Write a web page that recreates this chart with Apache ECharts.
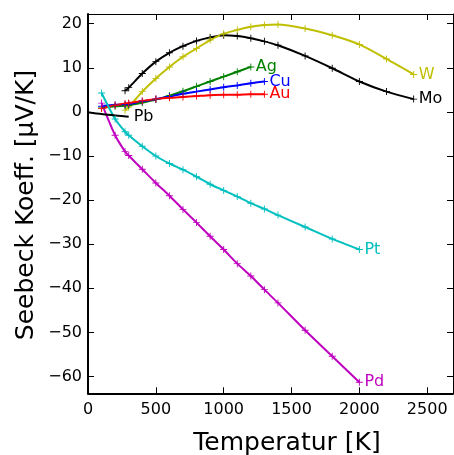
<!DOCTYPE html>
<html>
<head>
<meta charset="utf-8">
<script src="https://cdn.jsdelivr.net/npm/echarts@6/dist/echarts.min.js"></script>
<style>html,body{margin:0;padding:0;background:#fff}#c{width:454px;height:455px}</style>
</head>
<body>
<div id="c"></div>
<script>
// Data (temperature in K, Seebeck coefficient in µV/K)
const W  = [[273,0.4],[300,1.1],[400,4.6],[500,7.6],[600,10.2],[700,12.5],[800,14.4],[900,16.3],[1000,17.7],[1100,18.6],[1200,19.3],[1300,19.7],[1400,19.8],[1600,18.9],[1800,17.4],[2000,15.3],[2200,12.0],[2400,8.5]];
const Mo = [[273,4.8],[300,5.5],[400,8.7],[500,11.4],[600,13.4],[700,14.9],[800,16.1],[900,16.9],[1000,17.4],[1100,17.2],[1200,16.7],[1300,16.0],[1400,15.1],[1600,12.7],[1800,9.9],[2000,6.9],[2200,4.6],[2400,2.9]];
const Ag = [[100,0.9],[200,1.3],[273,1.4],[300,1.5],[400,2.1],[500,2.8],[600,3.7],[700,4.7],[800,5.8],[900,6.9],[1000,8.0],[1100,9.1],[1200,10.2]];
const Cu = [[100,1.3],[200,1.6],[273,1.7],[300,1.8],[400,2.4],[500,2.9],[600,3.5],[700,4.1],[800,4.6],[900,5.1],[1000,5.6],[1100,6.0],[1200,6.5],[1300,6.9]];
const Au = [[100,0.8],[200,1.5],[273,1.9],[300,2.0],[400,2.5],[500,2.9],[600,3.2],[700,3.4],[800,3.6],[900,3.8],[1000,3.9],[1100,3.9],[1200,4.0],[1300,4.0]];
const Pt = [[100,4.3],[200,-1.6],[273,-4.5],[300,-5.3],[400,-7.8],[500,-10.0],[600,-11.7],[700,-13.1],[800,-14.7],[900,-16.4],[1000,-17.8],[1100,-19.2],[1200,-20.7],[1300,-22.0],[1400,-23.4],[1600,-26.1],[1800,-28.8],[2000,-31.2]];
const Pd = [[100,2.0],[200,-5.3],[273,-9.0],[300,-9.9],[400,-13.0],[500,-16.1],[600,-19.0],[700,-22.1],[800,-25.1],[900,-28.2],[1000,-31.2],[1100,-34.4],[1200,-37.2],[1300,-40.3],[1400,-43.3],[1600,-49.5],[1800,-55.4],[2000,-61.3]];
const Pb = [[0,-0.1],[100,-0.5],[200,-0.8],[300,-1.1]];
const xTicks = [0,500,1000,1500,2000,2500];
const yTicks = [-60,-50,-40,-30,-20,-10,0,10,20];
const xTitle = 'Temperatur [K]';
const yTitle = 'Seebeck Koeff. [µV/K]';

const FONT = 'DejaVu Sans';
const plus = 'path://M-0.13,-1 L0.13,-1 L0.13,-0.13 L1,-0.13 L1,0.13 L0.13,0.13 L0.13,1 L-0.13,1 L-0.13,0.13 L-1,0.13 L-1,-0.13 L-0.13,-0.13 Z';

function mk(name, data, color, markers) {
  return {
    name, type: 'line', data, xAxisIndex: 0, yAxisIndex: 0,
    smooth: 0.25,
    symbol: plus, symbolSize: 7, showSymbol: markers !== false,
    lineStyle: { color, width: 2 },
    itemStyle: { color },
    emphasis: { disabled: true },
    animation: false,
    endLabel: { show: true, formatter: name, color, fontFamily: FONT, fontSize: 16, distance: 5 }
  };
}

const xMin = 0, xMax = 2690, yMin = -63.8, yMax = 22.2;
const fmtMinus = v => (v < 0 ? '\u2212' + Math.abs(v) : String(v));

const chart = echarts.init(document.getElementById('c'), null, { renderer: 'canvas' });
chart.setOption({
  animation: false,
  backgroundColor: '#fff',
  grid: { left: 88, right: 1, top: 14, bottom: 61.7, containLabel: false },
  xAxis: [
    { type: 'value', min: xMin, max: xMax, position: 'bottom',
      axisLine: { show: true, onZero: false, lineStyle: { color: '#000', width: 2 } },
      axisTick: { show: true, inside: true, length: 6, lineStyle: { color: '#000', width: 1 }, customValues: xTicks },
      axisLabel: { show: true, margin: 9, color: '#000', fontFamily: FONT, fontSize: 16, customValues: xTicks, formatter: v => String(v) },
      splitLine: { show: false } },
    { type: 'value', min: xMin, max: xMax, position: 'top',
      axisLine: { show: true, onZero: false, lineStyle: { color: '#000', width: 1 } },
      axisTick: { show: true, inside: true, length: 6, lineStyle: { color: '#000', width: 1 }, customValues: xTicks },
      axisLabel: { show: false }, splitLine: { show: false } }
  ],
  yAxis: [
    { type: 'value', min: yMin, max: yMax, position: 'left',
      axisLine: { show: true, onZero: false, lineStyle: { color: '#000', width: 2 } },
      axisTick: { show: true, inside: true, length: 6, lineStyle: { color: '#000', width: 1 }, customValues: yTicks },
      axisLabel: { show: true, margin: 6, color: '#000', fontFamily: FONT, fontSize: 16, customValues: yTicks, formatter: fmtMinus },
      splitLine: { show: false } },
    { type: 'value', min: yMin, max: yMax, position: 'right',
      axisLine: { show: true, onZero: false, lineStyle: { color: '#000', width: 1 } },
      axisTick: { show: true, inside: true, length: 6, lineStyle: { color: '#000', width: 1 }, customValues: yTicks },
      axisLabel: { show: false }, splitLine: { show: false } }
  ],
  graphic: [
    { type: 'text', x: 287, y: 443, style: { text: xTitle, font: '25px "DejaVu Sans"', fill: '#000', textAlign: 'center', textVerticalAlign: 'middle' } },
    { type: 'text', x: 26, y: 205, rotation: Math.PI / 2, style: { text: yTitle, font: '25px "DejaVu Sans"', fill: '#000', textAlign: 'center', textVerticalAlign: 'middle' } }
  ],
  series: [
    mk('Mo', Mo, '#000000'),
    mk('W', W, '#bfbf00'),
    mk('Ag', Ag, '#008000'),
    mk('Cu', Cu, '#0000ff'),
    mk('Au', Au, '#ff0000'),
    mk('Pt', Pt, '#00bfbf'),
    mk('Pd', Pd, '#bf00bf'),
    mk('Pb', Pb, '#000000', false)
  ]
});
</script>
</body>
</html>
